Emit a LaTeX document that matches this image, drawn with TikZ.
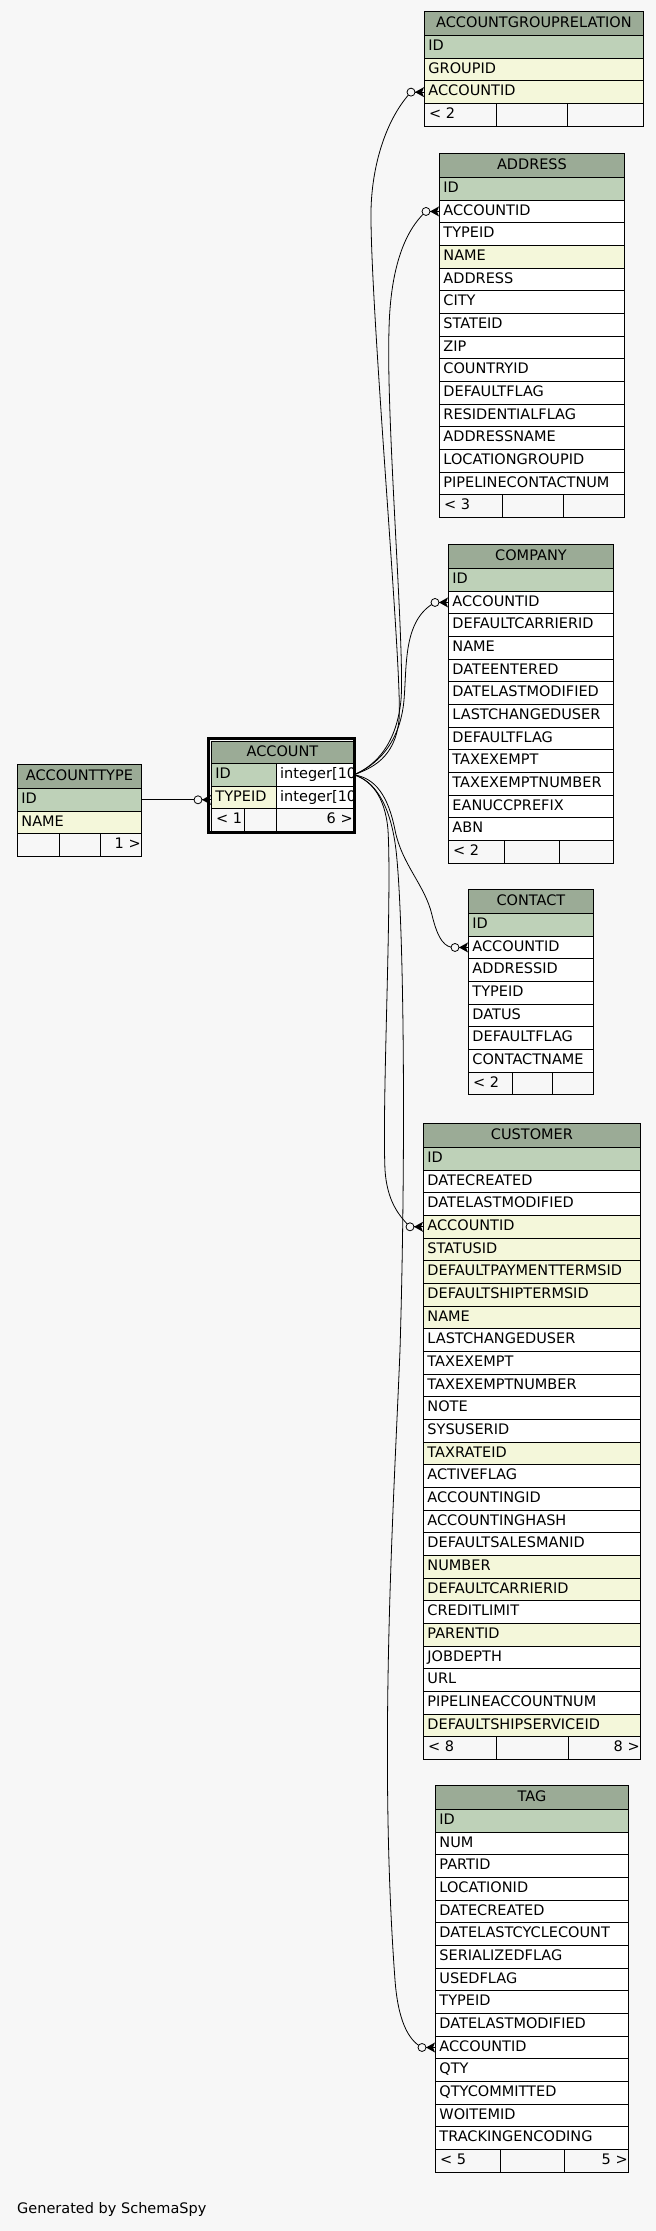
\documentclass[tikz,border=0pt]{standalone}
\usepackage{fontspec}
\setmainfont{DejaVu Sans}
\usetikzlibrary{calc}
\definecolor{bgc}{HTML}{F7F7F7}
\definecolor{hdc}{HTML}{9BAB96}
\definecolor{pkc}{HTML}{BED1B8}
\definecolor{fkc}{HTML}{F4F7DA}
\definecolor{wtc}{HTML}{FFFFFF}
\newcommand\tabfont{\fontsize{14.5}{17}\selectfont}
\tikzset{
  txt/.style={font=\tabfont, text height=10.7pt, text depth=3pt},
  hdr/.style={txt, draw=black, line width=0.9pt, fill=hdc, inner sep=0pt, minimum height=24pt, anchor=north west},
  cell/.style={txt, draw=black, line width=0.9pt, inner xsep=4pt, inner ysep=0pt, minimum height=22.667pt, align=left, anchor=north west},
  fcell/.style={draw=black, line width=0.9pt, fill=bgc, inner sep=0pt, minimum height=22.667pt, anchor=north west},
  ftxt/.style={txt, inner sep=0pt},
  conn/.style={draw=black, line width=0.8pt},
}
\newcommand\ertable[9]{%
  \pgfmathsetmacro\tW{#3-#2}%
  \pgfmathsetmacro\tT{#3-#2-8}%
  \node[hdr, minimum width=\tW pt] (#1) at (#2,#4) {#5};
  \foreach \rtxt/\rcol [count=\ri] in {#6} {%
    \pgfmathsetmacro\ry{#4+24+(\ri-1)*22.667}%
    \node[cell, fill=\rcol, text width=\tT pt] (#1-\ri) at (#2,\ry) {\mbox{\rtxt}};
    \xdef\nrows{\ri}%
  }%
  \pgfmathsetmacro\fy{#4+24+\nrows*22.667}%
  \pgfmathsetmacro\fa{#7-#2}\pgfmathsetmacro\fb{#8-#7}\pgfmathsetmacro\fc{#3-#8}%
  \node[fcell, minimum width=\fa pt] (#1-fa) at (#2,\fy) {};
  \node[fcell, minimum width=\fb pt] (#1-fb) at (#7,\fy) {};
  \node[fcell, minimum width=\fc pt] (#1-fc) at (#8,\fy) {};
  \foreach \fl/\fr in {#9} {%
    \node[ftxt, anchor=west] (#1-fl) at ([xshift=5pt]#1-fa.west) {\fl};
    \node[ftxt, anchor=east] (#1-fr) at ([xshift=-1pt]#1-fc.east) {\fr};
  }%
}
\newcommand\crowdot[1]{%
  \fill ($(#1)+(-9,0)$) -- ($(#1)+(0,-5)$) -- ($(#1)+(-2,0)$) -- ($(#1)+(0,5)$) -- cycle;
  \draw[line width=0.8pt] ($(#1)+(-9,0)$) -- (#1);
  \draw[line width=0.8pt, fill=bgc] ($(#1)+(-13,0)$) circle[radius=4];
}
\begin{document}
\begin{tikzpicture}[x=1pt,y=-1pt]
\useasboundingbox (0,0) rectangle (656,2231);
\fill[bgc] (0,0) rectangle (656,2231);

% tables
\ertable{acr}{424}{643}{11}{ACCOUNTGROUPRELATION}{ID/pkc,GROUPID/fkc,ACCOUNTID/fkc}{496}{567}{< 2/{}}
\ertable{addr}{439}{624}{153}{ADDRESS}{ID/pkc,ACCOUNTID/wtc,TYPEID/wtc,NAME/fkc,ADDRESS/wtc,CITY/wtc,STATEID/wtc,ZIP/wtc,COUNTRYID/wtc,DEFAULTFLAG/wtc,RESIDENTIALFLAG/wtc,ADDRESSNAME/wtc,LOCATIONGROUPID/wtc,PIPELINECONTACTNUM/wtc}{502}{563}{< 3/{}}
\ertable{comp}{448}{613}{544}{COMPANY}{ID/pkc,ACCOUNTID/wtc,DEFAULTCARRIERID/wtc,NAME/wtc,DATEENTERED/wtc,DATELASTMODIFIED/wtc,LASTCHANGEDUSER/wtc,DEFAULTFLAG/wtc,TAXEXEMPT/wtc,TAXEXEMPTNUMBER/wtc,EANUCCPREFIX/wtc,ABN/wtc}{504}{559}{< 2/{}}
\ertable{cont}{468}{593}{889}{CONTACT}{ID/pkc,ACCOUNTID/wtc,ADDRESSID/wtc,TYPEID/wtc,DATUS/wtc,DEFAULTFLAG/wtc,CONTACTNAME/wtc}{512}{552}{< 2/{}}
\ertable{cust}{423}{640}{1123}{CUSTOMER}{ID/pkc,DATECREATED/wtc,DATELASTMODIFIED/wtc,ACCOUNTID/fkc,STATUSID/fkc,DEFAULTPAYMENTTERMSID/fkc,DEFAULTSHIPTERMSID/fkc,NAME/fkc,LASTCHANGEDUSER/wtc,TAXEXEMPT/wtc,TAXEXEMPTNUMBER/wtc,NOTE/wtc,SYSUSERID/wtc,TAXRATEID/fkc,ACTIVEFLAG/wtc,ACCOUNTINGID/wtc,ACCOUNTINGHASH/wtc,DEFAULTSALESMANID/wtc,NUMBER/fkc,DEFAULTCARRIERID/fkc,CREDITLIMIT/wtc,PARENTID/fkc,JOBDEPTH/wtc,URL/wtc,PIPELINEACCOUNTNUM/wtc,DEFAULTSHIPSERVICEID/fkc}{496}{568}{< 8/8 >}
\ertable{tag}{435}{628}{1785}{TAG}{ID/pkc,NUM/wtc,PARTID/wtc,LOCATIONID/wtc,DATECREATED/wtc,DATELASTCYCLECOUNT/wtc,SERIALIZEDFLAG/wtc,USEDFLAG/wtc,TYPEID/wtc,DATELASTMODIFIED/wtc,ACCOUNTID/wtc,QTY/wtc,QTYCOMMITTED/wtc,WOITEMID/wtc,TRACKINGENCODING/wtc}{500}{564}{< 5/5 >}
\ertable{atype}{17}{141}{764}{ACCOUNTTYPE}{ID/pkc,NAME/fkc}{59}{100}{{}/1 >}

% ACCOUNT (selected table)
\node[hdr, minimum width=142pt, minimum height=22pt] (acc) at (211,741) {ACCOUNT};
\node[cell, fill=pkc, text width=57pt] (acc-1) at (211,763) {\mbox{ID}};
\node[cell, fill=wtc, minimum width=77pt] (acc-1t) at (276,763) {};
\node[cell, fill=fkc, text width=57pt] (acc-2) at (211,785.667) {\mbox{TYPEID}};
\node[cell, fill=wtc, minimum width=77pt] (acc-2t) at (276,785.667) {};
\node[fcell, minimum width=33pt] (acc-fa) at (211,808.333) {};
\node[fcell, minimum width=32pt] (acc-fb) at (244,808.333) {};
\node[fcell, minimum width=77pt] (acc-fc) at (276,808.333) {};
\node[ftxt, anchor=west] (acc-fl) at ([xshift=5pt]acc-fa.west) {< 1};
\node[ftxt, anchor=east] (acc-fr) at ([xshift=-1pt]acc-fc.east) {6 >};
\begin{scope}
  \clip (acc-1t.north west) rectangle (acc-2t.south east);
  \node[txt, inner sep=0pt, anchor=west] (acc-1tt) at ([xshift=4pt]acc-1t.west) {integer[10]};
  \node[txt, inner sep=0pt, anchor=west] (acc-2tt) at ([xshift=4pt]acc-2t.west) {integer[10]};
\end{scope}
\draw[line width=3pt] (208.8,738.8) rectangle (354,832.5);

% generated-by
\node[txt, anchor=base west, inner sep=0pt] (gen) at (17,2213) {Generated by SchemaSpy};

% connector end points (circle centres)
\coordinate (e-acr)  at ($(acr-3.west)+(-13,0)$);
\coordinate (e-addr) at ($(addr-2.west)+(-13,0)$);
\coordinate (e-comp) at ($(comp-2.west)+(-13,0)$);
\coordinate (e-cont) at ($(cont-2.west)+(-13,0)$);
\coordinate (e-cust) at ($(cust-4.west)+(-13,0)$);
\coordinate (e-tag)  at ($(tag-11.west)+(-13,0)$);
\coordinate (k-acc) at (atype-1.east -| acc-2.west);

% connectors
\draw[conn] (acc-1t.east) .. controls (372,768) and (395,758) .. (399,720)
  .. controls (403,680) and (372,330) .. (371,220)
  .. controls (370,170) and (385,120) .. (e-acr);
\draw[conn] (acc-1t.east) .. controls (370,768) and (396,750) .. (401,700)
  .. controls (405,650) and (386,420) .. (389,330)
  .. controls (390,280) and (400,235) .. (e-addr);
\draw[conn] (acc-1t.east) .. controls (375,766) and (400,745) .. (404,700)
  .. controls (407,665) and (403,620) .. (e-comp);
\draw[conn] (acc-1t.east) .. controls (375,778) and (388,795) .. (395,830)
  .. controls (402,865) and (425,885) .. (432,915)
  .. controls (438,940) and (445,948) .. (e-cont);
\draw[conn] (acc-1t.east) .. controls (370,780) and (385,795) .. (388,830)
  .. controls (392,900) and (382,1100) .. (385,1170)
  .. controls (387,1200) and (398,1215) .. (e-cust);
\draw[conn] (acc-1t.east) .. controls (372,780) and (390,800) .. (396,850)
  .. controls (404,920) and (406,1150) .. (400,1350)
  .. controls (394,1500) and (378,1750) .. (395,1980)
  .. controls (398,2020) and (408,2040) .. (e-tag);
\draw[conn] (atype-1.east) -- ($(k-acc)+(-13,0)$);

% crow's feet with open dots
\crowdot{acr-3.west}
\crowdot{addr-2.west}
\crowdot{comp-2.west}
\crowdot{cont-2.west}
\crowdot{cust-4.west}
\crowdot{tag-11.west}
\crowdot{k-acc}
\end{tikzpicture}
\end{document}
